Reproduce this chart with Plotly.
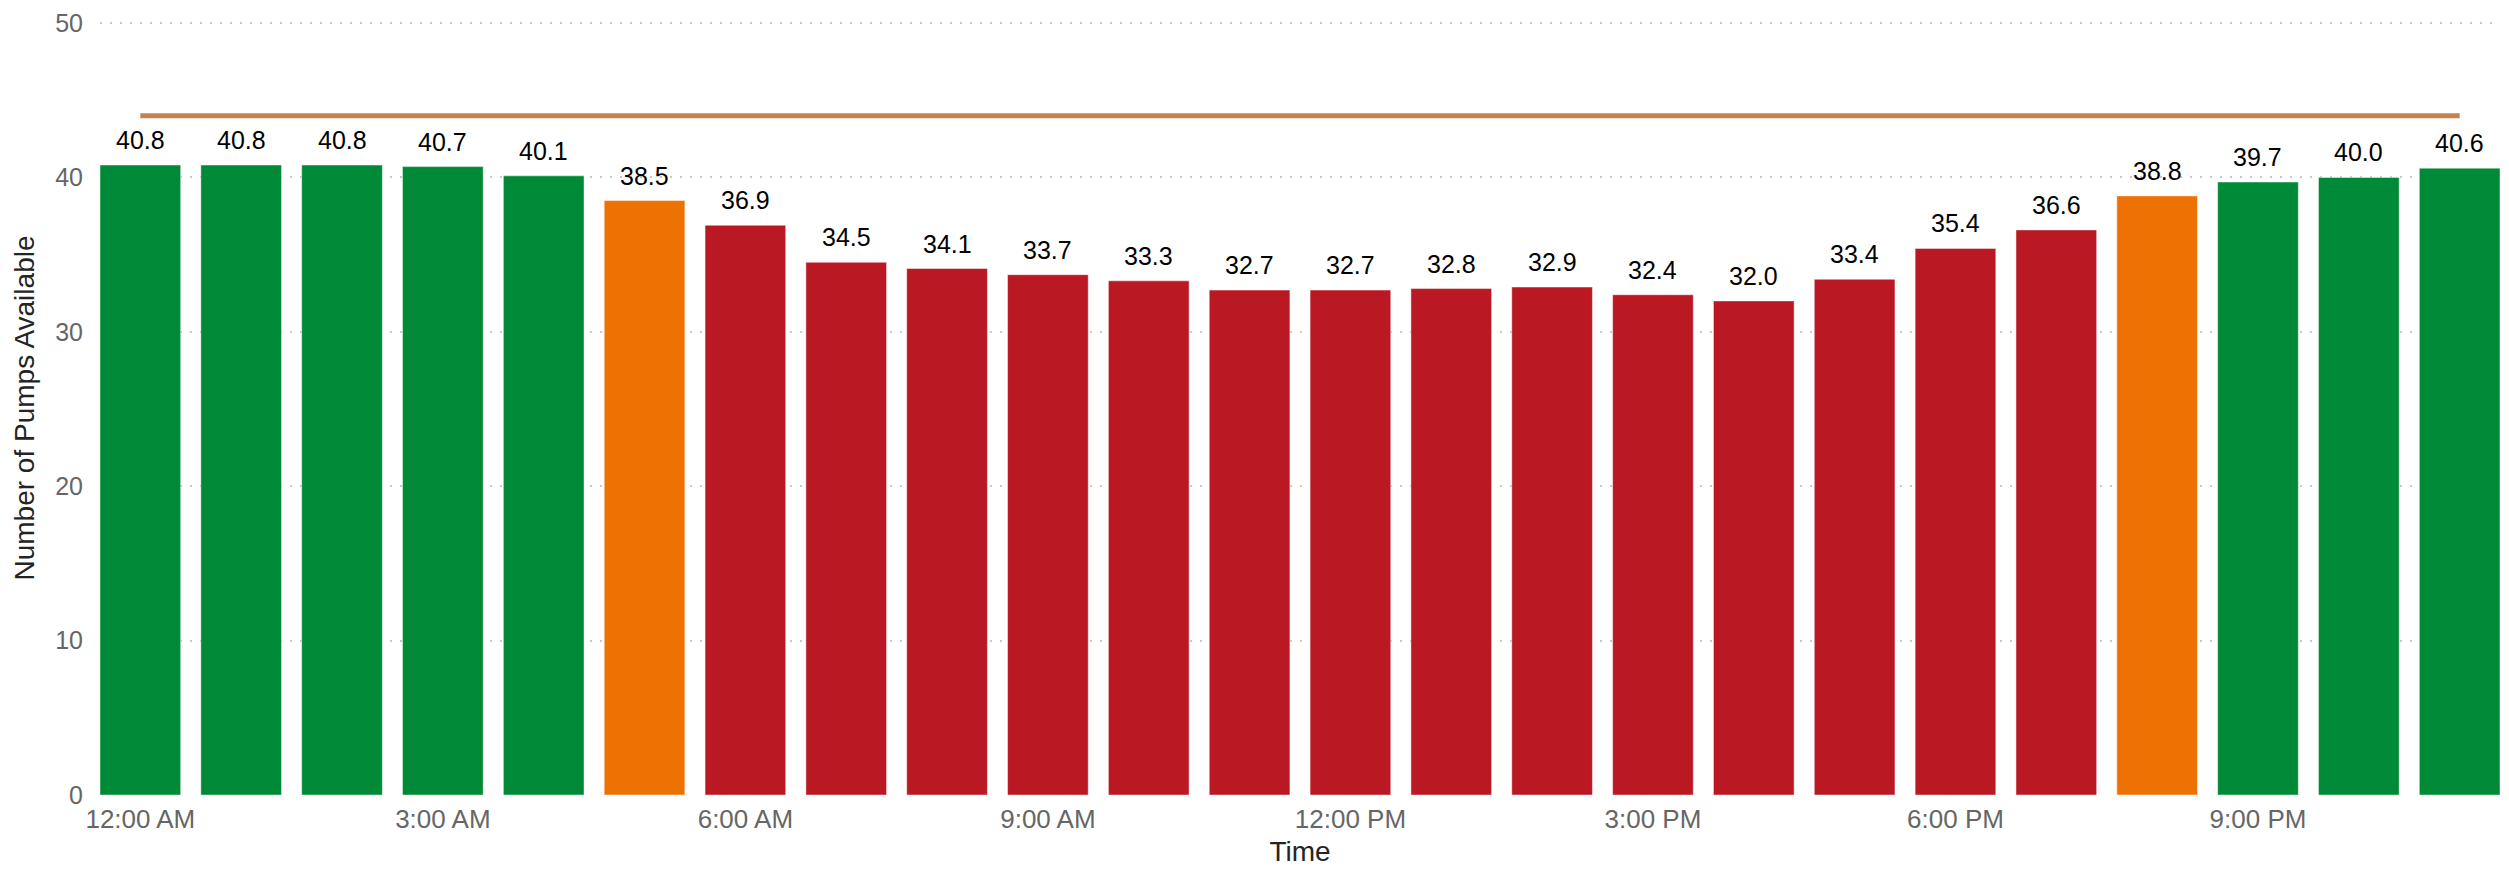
import plotly.graph_objects as go

hours = ["12:00 AM", "1:00 AM", "2:00 AM", "3:00 AM", "4:00 AM", "5:00 AM",
         "6:00 AM", "7:00 AM", "8:00 AM", "9:00 AM", "10:00 AM", "11:00 AM",
         "12:00 PM", "1:00 PM", "2:00 PM", "3:00 PM", "4:00 PM", "5:00 PM",
         "6:00 PM", "7:00 PM", "8:00 PM", "9:00 PM", "10:00 PM", "11:00 PM"]
pumps_available = [40.8, 40.8, 40.8, 40.7, 40.1, 38.5, 36.9, 34.5, 34.1, 33.7, 33.3, 32.7,
                   32.7, 32.8, 32.9, 32.4, 32.0, 33.4, 35.4, 36.6, 38.8, 39.7, 40.0, 40.6]
status = ["good", "good", "good", "good", "good", "warn",
          "bad", "bad", "bad", "bad", "bad", "bad",
          "bad", "bad", "bad", "bad", "bad", "bad",
          "bad", "bad", "warn", "good", "good", "good"]
target_value = 44
tick_hours = ["12:00 AM", "3:00 AM", "6:00 AM", "9:00 AM", "12:00 PM", "3:00 PM", "6:00 PM", "9:00 PM"]
y_ticks = [0, 10, 20, 30, 40, 50]

status_colors = {"good": "#008936", "warn": "#EE7203", "bad": "#BA1924"}
bar_colors = [status_colors[s] for s in status]

FONT = "Liberation Sans, Arial, sans-serif"

fig = go.Figure()
fig.add_trace(go.Bar(
    x=hours, y=pumps_available,
    marker=dict(color=bar_colors, line=dict(color="rgba(255,255,255,0.45)", width=1)),
    hoverinfo="x+y",
))
fig.add_trace(go.Scatter(
    x=hours, y=[target_value] * len(hours),
    mode="lines",
    line=dict(color="#C8804E", width=5),
    hoverinfo="y",
))

for h, v in zip(hours, pumps_available):
    fig.add_annotation(
        x=h, y=v, text=f"{v:.1f}", showarrow=False,
        xanchor="center", yanchor="bottom", yshift=9,
        font=dict(family=FONT, size=25, color="#000000"),
    )

fig.update_layout(
    width=2509, height=873,
    margin=dict(l=100, r=9, t=17, b=78),
    plot_bgcolor="white", paper_bgcolor="white",
    showlegend=False,
    bargap=0.2,
    font=dict(family=FONT),
)
fig.update_xaxes(
    type="category",
    range=[-0.5 + 0.1, len(hours) - 0.5 - 0.1],
    tickmode="array", tickvals=tick_hours, ticktext=tick_hours,
    tickfont=dict(family=FONT, size=26, color="#666666"),
    showgrid=False, zeroline=False, showline=False, ticks="",
    ticklabelstandoff=6,
    title=dict(text="Time", font=dict(family=FONT, size=28, color="#252423"), standoff=8),
)
fig.update_yaxes(
    range=[0, 50.13],
    tickvals=y_ticks,
    tickfont=dict(family=FONT, size=25, color="#666666"),
    showgrid=True, gridcolor="#C8C8C8", griddash="2px,8px", gridwidth=1.5,
    zeroline=False, showline=False, ticks="",
    ticklabelstandoff=16,
    title=dict(text="Number of Pumps Available", font=dict(family=FONT, size=28, color="#252423"), standoff=12),
)

fig.write_html("out.html")
